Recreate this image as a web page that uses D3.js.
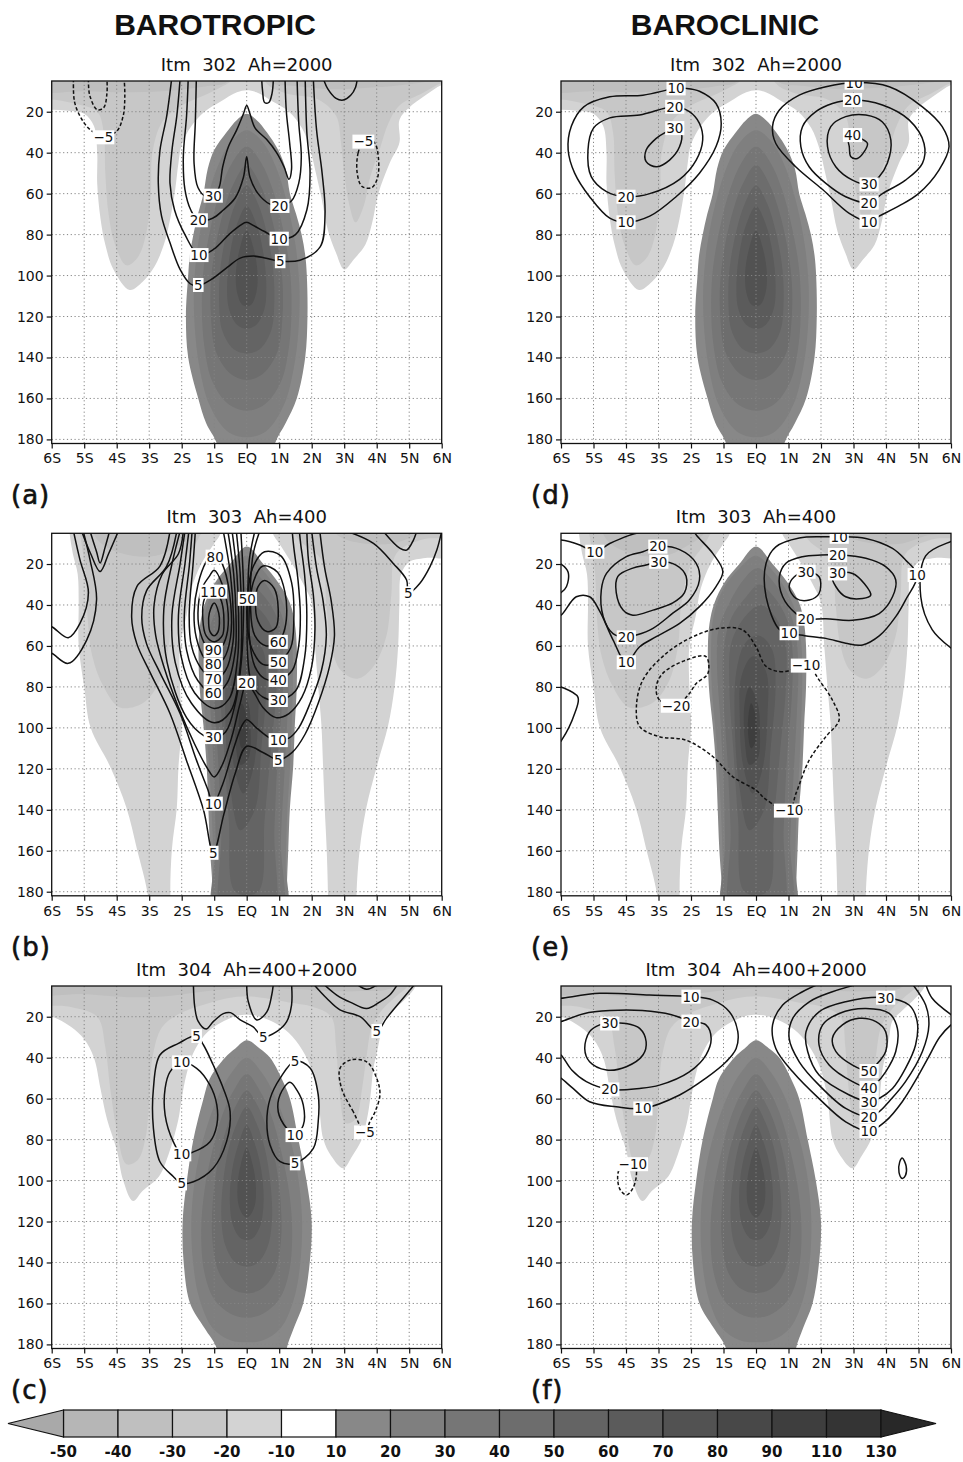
<!DOCTYPE html>
<html><head><meta charset="utf-8">
<script src="https://cdn.jsdelivr.net/npm/d3@7/dist/d3.min.js"></script>
<style>
body{margin:0;background:#fff;}
svg{display:block;font-family:"DejaVu Sans",sans-serif;}
</style></head><body>
<svg id="fig" width="963" height="1462"></svg>
<script>
// ---------- axes ----------
const latTicks = [-6,-5,-4,-3,-2,-1,0,1,2,3,4,5,6];
const latLabels = ["6S","5S","4S","3S","2S","1S","EQ","1N","2N","3N","4N","5N","6N"];
const depthTicks = [20,40,60,80,100,120,140,160,180];
const depthDomain = [5,182];

// ---------- shading classes ----------
const shadeLevels = [-50,-40,-30,-20,-10,10,20,30,40,50,60,70,80,90,110,130];
const shadeColors = ["#a9a9a9","#b6b6b6","#bfbfbf","#c7c7c7","#d3d3d3","#ffffff",
  "#888888","#7f7f7f","#767676","#6d6d6d","#646464","#5b5b5b","#525252","#484848","#3e3e3e","#343434","#282828"];

// ---------- shaded field, Itm 302 (panels a, d) ----------
const shadeRow1 = [
 {level:-10, pts:[[-6.5,-5],[-6.5,19],[-6,19],[-5.5,19.5],[-5.0,21],[-4.7,27],[-4.6,40],[-4.6,55],[-4.5,72],[-4.35,85],[-4.1,97],[-3.6,107],[-3.2,103],[-2.85,96],[-2.55,85],[-2.35,72],[-2.2,58],[-2.1,45],[-2.0,36],[-1.7,27],[-1.3,20],[-0.8,15],[-0.3,10.5],[0,9.5],[0.3,10.5],[0.8,15],[1.3,20],[1.7,28],[1.95,38],[2.1,48],[2.3,62],[2.5,78],[2.75,89],[3.0,97],[3.3,92],[3.65,85],[3.85,75],[4.05,60],[4.4,45],[4.7,35],[4.7,24],[5.0,18],[5.5,12],[6,7],[6.5,5],[6.5,-5],[0,-5]]},
 {level:-20, pts:[[-6.5,-5],[-6.5,14],[-6,14],[-5.3,16],[-4.6,20],[-4.4,30],[-4.35,50],[-4.25,70],[-4.05,85],[-3.7,95],[-3.35,91],[-3.1,80],[-2.95,60],[-2.9,40],[-2.6,25],[-2.0,17],[-1.3,12],[-0.8,8],[-0.5,5],[-0.4,-5]]},
 {level:-20, pts:[[0.4,-5],[0.6,6],[1.2,11],[2.2,14],[2.75,22],[2.9,35],[3.0,50],[3.15,65],[3.35,74],[3.6,66],[3.8,52],[4.1,38],[4.35,26],[4.7,17],[5.4,11],[6,6],[6.5,4],[6.5,-5]]},
 {level:-30, pts:[[-6.5,-5],[-6.5,9],[-5,10],[-3.5,10.5],[-2.2,9.5],[-1.2,7.5],[-0.6,5.5],[-0.3,-5]]},
 {level:-30, pts:[[0.3,-5],[0.7,5.5],[1.5,7.5],[2.6,9],[3.5,8.5],[4.5,7.5],[5.5,5.5],[6.5,3],[6.5,-5]]},
 {level:10, pts:[[0,21],[0.3,24],[0.62,30],[0.97,38.7],[1.2,48],[1.33,60],[1.52,70],[1.69,80],[1.8,90],[1.85,100],[1.87,120],[1.8,140],[1.54,160],[1.2,172],[0.87,182],[0.75,195],[-0.8,195],[-0.92,182],[-1.25,172],[-1.49,160],[-1.8,140],[-1.87,120],[-1.8,100],[-1.75,90],[-1.64,80],[-1.5,70],[-1.33,60],[-1.2,48],[-1.0,38.7],[-0.62,30],[-0.3,24]]},
 {level:20, pts:[[0,29],[0.5,35],[0.9,47],[1.25,65],[1.5,85],[1.62,105],[1.6,125],[1.45,145],[1.15,163],[0.6,176],[0,179],[-0.6,176],[-1.15,163],[-1.45,145],[-1.6,125],[-1.62,105],[-1.5,85],[-1.25,65],[-0.9,47],[-0.5,35]]},
 {level:30, pts:[[0,37],[0.45,45],[0.8,58],[1.1,76],[1.32,96],[1.38,115],[1.3,135],[1.05,152],[0.55,163],[0,166],[-0.55,163],[-1.05,152],[-1.3,135],[-1.38,115],[-1.32,96],[-1.1,76],[-0.8,58],[-0.45,45]]},
 {level:40, pts:[[0,46],[0.4,55],[0.7,68],[0.95,85],[1.1,103],[1.1,120],[0.95,137],[0.5,148],[0,151],[-0.5,148],[-0.95,137],[-1.1,120],[-1.1,103],[-0.95,85],[-0.7,68],[-0.4,55]]},
 {level:50, pts:[[0,56],[0.35,65],[0.6,78],[0.8,95],[0.85,112],[0.75,127],[0.4,136],[0,138],[-0.4,136],[-0.75,127],[-0.85,112],[-0.8,95],[-0.6,78],[-0.35,65]]},
 {level:60, pts:[[0,66],[0.3,75],[0.5,88],[0.6,103],[0.55,116],[0.3,124],[0,126],[-0.3,124],[-0.55,116],[-0.6,103],[-0.5,88],[-0.3,75]]},
 {level:70, pts:[[0,78],[0.2,86],[0.33,98],[0.3,108],[0.15,114],[0,115],[-0.15,114],[-0.3,108],[-0.33,98],[-0.2,86]]}
];

// ---------- shaded field, Itm 303 (panels b, e) ----------
const shadeRow2 = [
 {level:-10, pts:[[-5.5,-5],[-5.45,5],[-5.35,15],[-5.2,25],[-5.17,39],[-5.17,60],[-5.0,80],[-4.8,100],[-4.2,119],[-3.7,139],[-3.38,159],[-3.05,181],[-3.0,195],[-2.3,195],[-2.35,181],[-2.3,159],[-2.15,139],[-2.1,119],[-2.0,99],[-2.05,80],[-2.05,60],[-1.85,45],[-1.7,32],[-1.4,20],[-1.0,10],[-0.8,5],[-0.75,-5]]},
 {level:-10, pts:[[0.75,-5],[0.8,5],[1.0,10],[1.4,20],[1.75,30],[2.0,39],[2.1,60],[2.2,80],[2.3,99],[2.35,119],[2.4,139],[2.46,159],[2.5,181],[2.5,195],[3.38,195],[3.38,181],[3.48,159],[3.68,139],[4.0,119],[4.35,99],[4.55,80],[4.66,60],[4.7,39],[4.75,25],[5.0,19],[5.5,17],[6.5,16],[6.5,-5]]},
 {level:-20, pts:[[-5.2,-5],[-5.1,8],[-4.95,25],[-4.9,45],[-4.75,65],[-4.4,80],[-3.9,90],[-3.2,88],[-2.7,78],[-2.4,60],[-2.3,40],[-2.0,20],[-1.5,8],[-1.2,-5]]},
 {level:-20, pts:[[1.2,-5],[1.6,8],[2.3,18],[2.45,40],[2.6,60],[2.9,72],[3.4,76],[3.9,70],[4.3,55],[4.45,35],[4.6,15],[5.4,8],[6.5,6],[6.5,-5]]},
 {level:-30, pts:[[-4.8,-5],[-4.6,8],[-3.8,15],[-2.8,16],[-2.1,11],[-1.6,5],[-1.5,-5]]},
 {level:-30, pts:[[2.5,-5],[2.8,6],[3.6,10],[4.5,10],[5.3,6],[6.5,4],[6.5,-5]]},
 {level:10, pts:[[0,11.5],[0.51,20],[0.97,29],[1.33,39],[1.48,49],[1.54,60],[1.54,80],[1.48,99],[1.43,119],[1.33,139],[1.28,159],[1.23,181],[1.22,195],[-1.04,195],[-1.04,181],[-1.13,159],[-1.18,139],[-1.23,119],[-1.33,99],[-1.45,80],[-1.48,60],[-1.43,49],[-1.28,39],[-0.97,29],[-0.51,20]]},
 {level:20, pts:[[0,16],[0.5,23],[0.9,32],[1.25,45],[1.4,60],[1.42,80],[1.38,100],[1.33,120],[1.25,140],[1.2,165],[1.15,195],[-0.97,195],[-1.02,165],[-1.08,140],[-1.15,120],[-1.25,100],[-1.36,80],[-1.38,60],[-1.3,45],[-1.0,32],[-0.5,22]]},
 {level:30, pts:[[0.05,22],[0.5,28],[0.9,38],[1.2,52],[1.3,70],[1.25,95],[1.15,125],[1.05,155],[1.0,195],[-0.9,195],[-0.95,155],[-1.0,125],[-1.1,95],[-1.2,70],[-1.15,52],[-0.85,40],[-0.4,28]]},
 {level:40, pts:[[0.1,30],[0.55,36],[0.95,47],[1.12,62],[1.1,85],[0.95,115],[0.85,150],[0.75,195],[-0.7,195],[-0.78,150],[-0.88,115],[-1.0,85],[-1.0,62],[-0.75,46],[-0.3,36]]},
 {level:50, pts:[[0.15,40],[0.6,46],[0.9,58],[0.92,80],[0.75,110],[0.55,145],[0.35,180],[-0.35,180],[-0.55,145],[-0.7,110],[-0.82,80],[-0.75,58],[-0.3,45]]},
 {level:60, pts:[[0.1,55],[0.5,62],[0.6,80],[0.45,110],[0.25,140],[-0.2,150],[-0.5,130],[-0.65,100],[-0.6,72],[-0.3,58]]},
 {level:70, pts:[[-0.1,65],[0.3,72],[0.35,95],[0.2,120],[-0.1,132],[-0.4,118],[-0.5,95],[-0.45,75]]},
 {level:80, pts:[[-0.2,80],[0.05,88],[0.12,100],[0.05,115],[-0.2,118],[-0.35,105],[-0.35,88]]},
 {level:90, pts:[[-0.15,88],[0.0,95],[0.0,106],[-0.15,110],[-0.25,100]]}
];

// ---------- shaded field, Itm 304 (panels c, f) ----------
const shadeRow3 = [
 {level:-10, pts:[[-6.5,-5],[-6.5,20],[-6,20],[-5.4,25],[-5.0,31],[-4.7,40],[-4.5,55],[-4.3,70],[-4.0,85],[-3.8,100],[-3.5,110],[-3.2,105],[-2.7,98],[-2.4,87],[-2.26,80],[-2.1,70],[-2.0,60],[-1.85,48],[-1.65,38],[-1.3,29],[-0.8,23],[-0.3,19.5],[0,19],[0.3,19.5],[0.8,22.5],[1.3,28],[1.7,36],[2.0,46],[2.2,60],[2.36,80],[2.6,88],[2.97,94],[3.25,88],[3.54,80],[3.7,70],[3.8,60],[3.9,45],[4.0,38],[4.1,30],[4.2,22],[4.5,17],[4.9,11],[5.2,5],[5.3,-5],[0,-5]]},
 {level:-20, pts:[[-6.5,-5],[-6.5,13],[-5.5,15],[-4.6,20],[-4.35,35],[-4.2,55],[-4.0,75],[-3.7,92],[-3.35,90],[-3.1,78],[-3.0,60],[-2.9,40],[-2.6,25],[-2.0,18],[-1.3,14],[-0.6,11],[0,10],[0.6,11],[1.3,13],[2.0,15],[2.6,20],[2.75,35],[2.85,55],[3.05,72],[3.35,70],[3.55,55],[3.7,38],[3.85,25],[4.2,16],[4.6,10],[5.0,4],[5.05,-5],[0,-5]]},
 {level:-30, pts:[[-6.5,-5],[-6.5,8],[-5,9],[-3.5,10.5],[-2.5,10],[-1.5,8],[-0.5,6.5],[0.5,6],[1.5,6.5],[2.5,7.5],[3.5,7.5],[4.5,5.5],[4.8,-5],[0,-5]]},
 {level:10, pts:[[0,31.5],[0.4,35.5],[0.72,40],[1.07,50],[1.33,60],[1.59,80],[1.84,100],[2.0,120],[1.94,140],[1.74,160],[1.45,172],[1.23,182],[1.15,195],[-0.85,195],[-0.92,182],[-1.3,172],[-1.74,160],[-1.94,140],[-1.97,120],[-1.84,100],[-1.64,80],[-1.33,60],[-1.13,50],[-0.67,40],[-0.35,35.5]]},
 {level:20, pts:[[0,40],[0.45,47],[0.85,58],[1.25,75],[1.55,95],[1.7,118],[1.65,140],[1.45,158],[1.05,172],[0.5,178],[0,179],[-0.5,178],[-1.05,172],[-1.45,158],[-1.65,140],[-1.7,118],[-1.55,95],[-1.25,75],[-0.85,58],[-0.45,47]]},
 {level:30, pts:[[0,48],[0.4,56],[0.75,68],[1.05,85],[1.3,105],[1.4,125],[1.3,145],[1.0,158],[0.5,165],[0,167],[-0.5,165],[-1.0,158],[-1.3,145],[-1.4,125],[-1.3,105],[-1.05,85],[-0.75,68],[-0.4,56]]},
 {level:40, pts:[[0,56],[0.35,64],[0.65,76],[0.9,92],[1.05,112],[1.05,130],[0.85,145],[0.45,153],[0,155],[-0.45,153],[-0.85,145],[-1.05,130],[-1.05,112],[-0.9,92],[-0.65,76],[-0.35,64]]},
 {level:50, pts:[[0,64],[0.3,72],[0.55,84],[0.72,100],[0.78,118],[0.65,132],[0.35,140],[0,142],[-0.35,140],[-0.65,132],[-0.78,118],[-0.72,100],[-0.55,84],[-0.3,72]]},
 {level:60, pts:[[0,73],[0.25,82],[0.45,95],[0.52,110],[0.42,122],[0.2,128],[0,129],[-0.2,128],[-0.42,122],[-0.52,110],[-0.45,95],[-0.25,82]]},
 {level:70, pts:[[0,84],[0.18,92],[0.28,102],[0.25,112],[0.1,117],[0,118],[-0.1,117],[-0.25,112],[-0.28,102],[-0.18,92]]}
];

// ---------- isolines, barotropic Itm 302 (a) ----------
const contoursA = [
 {v:5, pts:[[-2.31,4],[-2.46,22],[-2.67,39],[-2.72,55],[-2.62,71],[-2.36,84],[-2.05,97],[-1.74,104],[-1.49,105],[-1.1,102],[-0.6,96],[-0.2,91.5],[0.2,90.5],[0.6,91.5],[1.03,93],[1.64,92.5],[2.26,86],[2.41,70],[2.32,50],[2.15,29],[2.05,4]], labels:[[-1.49,104.6],[1.03,93]]},
 {v:10, pts:[[-2.05,4],[-2.15,22],[-2.3,39],[-2.36,55],[-2.22,68],[-1.9,80],[-1.47,90],[-1.0,87],[-0.55,80],[-0.2,75.5],[0,74],[0.2,75.5],[0.55,78.5],[1.0,82],[1.5,80],[1.85,68],[1.95,50],[1.85,30],[1.8,4]], labels:[[-1.47,90],[1.0,82]]},
 {v:20, pts:[[-1.8,4],[-1.85,22],[-1.95,42],[-1.9,58],[-1.72,68],[-1.49,73],[-1.05,72],[-0.72,68],[-0.35,62],[-0.1,52],[0,42],[0.1,52],[0.35,60],[0.7,65],[1.02,66],[1.38,63.5],[1.6,55],[1.68,42],[1.6,25],[1.55,4]], labels:[[-1.49,73],[1.02,66]]},
 {v:30, pts:[[-1.55,4],[-1.58,25],[-1.62,45],[-1.5,57],[-1.25,61.5],[-1.03,61],[-0.85,57],[-0.74,47],[-0.56,37],[-0.31,29],[-0.1,21],[0,17],[0.1,21],[0.26,28],[0.61,33.5],[0.92,40],[1.15,47],[1.3,53],[1.38,48],[1.32,35],[1.22,20],[1.18,4]], labels:[[-1.03,61]]},
 {v:40, pts:[[0.46,4],[0.49,10],[0.55,15.5],[0.68,15.5],[0.78,11],[0.82,4]], labels:[]},
 {v:5, pts:[[2.36,4],[2.5,9],[2.75,13.5],[2.97,14.3],[3.2,12],[3.35,8],[3.4,4]], labels:[]},
 {v:-5, pts:[[-5.33,4],[-5.3,15],[-5.1,23],[-4.8,29],[-4.4,32],[-4.0,29.5],[-3.8,22],[-3.75,12],[-3.77,4]], labels:[[-4.41,32.5]]},
 {v:-10, pts:[[-4.87,4],[-4.83,12],[-4.6,19],[-4.4,18],[-4.3,11],[-4.3,4]], labels:[]},
 {v:-5, closed:true, pts:[[3.59,34.6],[3.43,40],[3.4,50],[3.55,56.5],[3.85,57],[4.03,52],[4.05,42],[3.95,35.5],[3.8,33.8]], labels:[[3.59,34.6]]}
];

// ---------- isolines, baroclinic Itm 302 (d) ----------
const contoursD = [
 {v:10, closed:true, pts:[[-2.46,8.6],[-3.48,11.9],[-4.5,12.7],[-5.3,17.6],[-5.68,27],[-5.78,38.7],[-5.58,50],[-5.12,61.5],[-4.5,72],[-4.0,74],[-3.27,71],[-2.46,61.5],[-1.74,50],[-1.23,37],[-1.07,25.7],[-1.23,16],[-1.74,10],[-2.15,8.6]], labels:[[-2.46,8.6],[-4.0,74]]},
 {v:20, closed:true, pts:[[-2.5,17.6],[-3.58,21.6],[-4.5,23],[-5.0,28],[-5.17,38.7],[-5.07,51.7],[-4.6,59],[-4.0,61.5],[-3.27,60],[-2.35,53],[-1.84,43.6],[-1.64,33.8],[-1.74,25.7],[-2.05,20]], labels:[[-2.5,17.6],[-4.0,61.5]]},
 {v:30, closed:true, pts:[[-2.5,28],[-2.3,30.5],[-2.35,37],[-2.66,43.6],[-3.07,46.9],[-3.38,44.4],[-3.38,38.7],[-3.07,33],[-2.76,29.8]], labels:[[-2.5,28]]},
 {v:10, closed:true, pts:[[3.02,5.8],[4.1,7.8],[5.12,17.6],[5.73,27.3],[5.94,37],[5.63,48.5],[5.0,60],[4.4,66],[3.79,71],[3.48,73.7],[2.87,69.6],[2.05,58],[1.23,47],[0.61,35.5],[0.51,27],[0.72,19.2],[1.33,11.9],[2.15,7.8]], labels:[[3.02,5.8],[3.48,73.7]]},
 {v:20, closed:true, pts:[[2.97,14.3],[3.89,16.7],[4.71,24],[5.17,35.5],[5.12,45.2],[4.6,53.4],[3.89,60],[3.48,64.4],[2.76,61.5],[2.15,55],[1.64,47],[1.38,37],[1.43,27.3],[1.84,20],[2.35,16]], labels:[[2.97,14.3],[3.48,64.4]]},
 {v:30, closed:true, pts:[[3.48,55.5],[2.97,53.4],[2.46,47],[2.2,37],[2.3,27.3],[2.76,22.4],[3.38,21.6],[3.89,25],[4.15,33.8],[4.04,45.2],[3.79,51.7]], labels:[[3.48,55.5]]},
 {v:40, closed:true, pts:[[2.97,31.4],[3.22,33],[3.43,35.5],[3.33,39.5],[3.12,42.8],[2.92,42],[2.87,37],[2.84,33.8]], labels:[[2.97,31.4]]}
];

// ---------- isolines, barotropic Itm 303 (b) ----------
const contoursB = [
 {v:130, closed:true, pts:[[-1.0,39],[-0.86,44],[-0.84,49],[-0.88,53],[-1.0,55],[-1.13,53],[-1.17,49],[-1.15,44]], labels:[]},
 {v:110, closed:true, pts:[[-1.03,32],[-0.78,38],[-0.7,48],[-0.75,55],[-1.0,58],[-1.25,55],[-1.35,47],[-1.3,37]], labels:[[-1.03,33.5]]},
 {v:90, closed:true, pts:[[-1.0,23],[-0.75,30],[-0.57,44],[-0.62,55],[-0.8,61],[-1.0,62.5],[-1.2,61],[-1.42,54],[-1.5,44],[-1.38,32],[-1.15,26]], labels:[[-1.03,62]]},
 {v:80, closed:true, pts:[[-1.0,14],[-0.7,22],[-0.49,40],[-0.5,56],[-0.7,66],[-1.0,69.5],[-1.3,66],[-1.55,56],[-1.62,44],[-1.5,30],[-1.25,19]], labels:[[-0.97,16.4],[-1.03,69]]},
 {v:70, pts:[[-1.58,4],[-1.65,20],[-1.77,45],[-1.7,60],[-1.4,71],[-1.0,76.5],[-0.65,72],[-0.42,58],[-0.41,45],[-0.5,25],[-0.65,10],[-0.72,4]], labels:[[-1.03,76]]},
 {v:60, pts:[[-1.68,4],[-1.76,20],[-1.92,45],[-1.85,62],[-1.5,77],[-1.0,83.5],[-0.6,78],[-0.35,62],[-0.33,45],[-0.4,25],[-0.52,10],[-0.58,4]], labels:[[-1.03,83]]},
 {v:50, pts:[[-1.78,4],[-1.9,20],[-2.1,45],[-2.02,65],[-1.6,83],[-1.0,90.5],[-0.55,86],[-0.28,66],[-0.25,45],[-0.3,25],[-0.4,10],[-0.45,4]], labels:[]},
 {v:40, pts:[[-1.9,4],[-2.05,20],[-2.3,45],[-2.2,68],[-1.7,88],[-1.0,97.5],[-0.5,92],[-0.2,70],[-0.16,45],[-0.2,25],[-0.28,10],[-0.32,4]], labels:[]},
 {v:30, pts:[[-2.05,4],[-2.3,20],[-2.55,42],[-2.45,68],[-1.85,95],[-1.3,104],[-1.03,105],[-0.65,102],[-0.35,88],[-0.15,65],[-0.1,45],[-0.1,30],[-0.14,15],[-0.18,4]], labels:[[-1.03,104.5]]},
 {v:20, pts:[[-1.95,4],[-2.1,15],[-2.6,25],[-2.85,40],[-2.8,55],[-2.55,70],[-2.1,90],[-1.6,108],[-1.2,120],[-1.0,124],[-0.75,118],[-0.45,104],[-0.2,88],[0,78],[0.2,82],[0.5,90],[0.9,95],[1.3,93],[1.7,85],[2.0,70],[2.1,52],[2.05,35],[1.9,18],[1.85,4]], labels:[[0,78]]},
 {v:10, pts:[[-2.15,4],[-2.46,21],[-3.08,33],[-3.23,46],[-3.08,59],[-2.67,73],[-2.05,93],[-1.54,116],[-1.2,130],[-1.03,137],[-0.75,128],[-0.4,110],[-0.15,99],[0,96],[0.3,100],[0.72,105],[0.97,106],[1.3,105],[1.6,100],[1.95,88],[2.3,72],[2.45,55],[2.35,38],[2.15,22],[2.0,4]], labels:[[-1.03,137],[0.97,106]]},
 {v:5, pts:[[-2.36,4],[-2.67,21],[-3.38,31],[-3.54,46],[-3.38,59],[-2.97,73],[-2.36,93],[-1.85,116],[-1.33,140],[-1.03,161],[-0.7,142],[-0.35,122],[0,109],[0.5,112],[0.97,115.6],[1.4,112],[1.8,103],[2.2,88],[2.55,70],[2.7,55],[2.6,38],[2.4,22],[2.25,4]], labels:[[-1.03,161],[0.97,115.6]]},
 {v:70, closed:true, pts:[[0.55,28],[0.85,32],[0.97,42],[0.9,51],[0.62,53],[0.35,48],[0.27,38],[0.35,31]], labels:[]},
 {v:60, closed:true, pts:[[0.5,21],[0.95,24],[1.18,34],[1.22,47],[1.1,55],[0.97,58],[0.6,60],[0.25,55],[0.12,42],[0.2,29]], labels:[[0.97,58]]},
 {v:50, closed:true, pts:[[0.02,37],[0.18,22],[0.55,14],[1.05,16],[1.38,29],[1.45,47],[1.35,61],[0.97,67.7],[0.5,69],[0.15,61],[0.02,50]], labels:[[0.02,37],[0.97,67.7]]},
 {v:40, pts:[[0.4,4],[0.2,15],[0.1,35],[0.08,55],[0.25,70],[0.55,76],[0.97,76.6],[1.4,72],[1.6,60],[1.65,45],[1.58,28],[1.45,12],[1.4,4]], labels:[[0.97,76.6]]},
 {v:30, pts:[[0.25,4],[0.08,18],[0.03,40],[0.02,62],[0.15,78],[0.5,85],[0.97,86.4],[1.5,82],[1.78,66],[1.85,45],[1.78,25],[1.66,10],[1.62,4]], labels:[[0.97,86.4]]},
 {v:5, pts:[[-5.08,4],[-4.8,15],[-4.51,23.7],[-4.25,15],[-3.95,4]], labels:[]},
 {v:10, pts:[[-4.82,4],[-4.62,14],[-4.51,19.5],[-4.36,12],[-4.22,4]], labels:[]},
 {v:5, pts:[[-6.2,50],[-6,50.6],[-5.49,56],[-5.13,49],[-4.87,34],[-5.13,18],[-5.33,4]], labels:[]},
 {v:5, pts:[[-6.2,63],[-6,63.6],[-5.49,68.5],[-4.92,57],[-4.62,37.6],[-4.82,18],[-5.03,4]], labels:[]},
 {v:5, pts:[[3.08,4],[3.9,9.9],[4.51,19.7],[4.92,27.8],[4.97,34.3],[5.33,29.4],[5.64,21.3],[5.85,13.2],[6.0,4]], labels:[[4.97,34.3]]},
 {v:10, pts:[[4.2,4],[4.72,12.4],[4.92,13.2],[5.13,8.3],[5.23,4]], labels:[]}
];

// ---------- isolines, baroclinic Itm 303 (e) ----------
const contoursE = [
 {v:10, pts:[[-6.2,8.5],[-6,8.3],[-5.42,10.7],[-4.96,14],[-4.5,10],[-3.9,6],[-3.4,4]], labels:[[-4.96,14]]},
 {v:10, pts:[[-6.2,46],[-6,45],[-5.53,36],[-5.12,36],[-4.81,43],[-4.4,57],[-3.99,68],[-3.58,60.4],[-3.07,55.5],[-2.35,49],[-1.74,40.8],[-1.23,31],[-1.02,23.7],[-1.33,14.8],[-1.84,5.8],[-1.9,4]], labels:[[-3.99,68]]},
 {v:10, pts:[[-6.2,19],[-6,20],[-5.78,24],[-5.83,31],[-6,34],[-6.2,35]], labels:[]},
 {v:10, pts:[[-6.2,79],[-6,80],[-5.48,85],[-5.58,93],[-5.98,106],[-6.2,110]], labels:[]},
 {v:20, closed:true, pts:[[-3.02,11.5],[-2.35,13],[-1.84,19.7],[-1.74,27.8],[-2.05,37.6],[-2.56,44],[-3.17,51.4],[-3.68,54.7],[-3.99,55.8],[-4.4,54],[-4.7,45.7],[-4.76,32.7],[-4.6,24.6],[-3.99,16.4],[-3.48,14]], labels:[[-3.02,11.5],[-3.99,55.8]]},
 {v:30, closed:true, pts:[[-2.99,18.9],[-2.46,20.5],[-2.15,26],[-2.2,34],[-2.56,39],[-3.17,42.5],[-3.79,45],[-4.09,42.5],[-4.3,34],[-4.25,26],[-3.79,22],[-3.38,20.5]], labels:[[-2.99,18.9]]},
 {v:10, closed:true, pts:[[2.56,6.7],[3.38,7.5],[4.2,12.4],[4.6,18],[4.96,25.4],[4.6,37.6],[4.3,45.7],[3.8,55],[3.28,59.5],[2.76,58.7],[2.15,56.3],[1.5,55],[1.02,53.8],[0.72,52],[0.31,36],[0.31,19.6],[0.61,11.6],[1.33,7.3],[2.05,6.7]], labels:[[2.56,6.7],[4.96,25.4],[1.02,53.8]]},
 {v:10, pts:[[6.2,8],[6,9],[5.22,16],[5.07,36],[5.42,52],[6,61],[6.2,63]], labels:[]},
 {v:20, closed:true, pts:[[2.51,15.6],[3.38,17.2],[3.99,21.3],[4.3,27.8],[4.2,36],[3.79,44.2],[2.97,47.5],[2.15,46.7],[1.54,46.7],[1.23,44.2],[0.82,36],[0.72,26.2],[0.92,19.6],[1.43,16.4],[2.0,15.6]], labels:[[2.51,15.6],[1.54,46.7]]},
 {v:30, closed:true, pts:[[1.54,23.8],[1.94,26.2],[1.94,34.4],[1.64,37.6],[1.23,36.8],[1.02,31.1],[1.18,26.2]], labels:[[1.54,23.8]]},
 {v:30, closed:true, pts:[[2.51,24.6],[2.97,24.6],[3.33,29.5],[3.53,35.2],[3.28,36.8],[2.76,36],[2.46,31.1],[2.35,26.2]], labels:[[2.51,24.6]]},
 {v:-10, closed:true, pts:[[1.54,69.6],[0.82,72.6],[0.31,70],[0,60.4],[-0.41,52.2],[-1.13,51.4],[-1.94,55.5],[-2.76,63.6],[-3.48,76.6],[-3.68,89.7],[-3.58,99.4],[-2.97,104.3],[-2.15,106],[-1.33,114],[-0.72,123.8],[0,130.4],[0.31,135],[1.02,140.4],[1.23,132],[1.64,115.7],[2.15,104.3],[2.56,96],[2.35,86.4],[1.94,76.6],[1.74,71.8]], labels:[[1.54,69.6],[1.02,140.4]]},
 {v:-20, closed:true, pts:[[-2.46,89.2],[-2.97,86.4],[-3.07,80],[-2.87,73.4],[-2.15,66.9],[-1.54,65.2],[-1.48,73.4],[-1.84,78.3],[-2.05,83.2]], labels:[[-2.46,89.2]]}
];

// ---------- isolines, barotropic Itm 304 (c) ----------
const contoursC = [
 {v:5, closed:true, pts:[[-1.54,29.4],[-2.1,33],[-2.67,38.7],[-2.87,55],[-2.87,74.5],[-2.67,90.8],[-2.26,98],[-2.0,101.4],[-1.64,100.6],[-1.03,94],[-0.62,81],[-0.51,66.4],[-0.72,55],[-1.03,43.6],[-1.33,33.8]], labels:[[-1.54,29.4],[-2.0,101.4]]},
 {v:10, closed:true, pts:[[-2.0,42.3],[-1.54,45.2],[-1.13,53.4],[-0.92,63],[-0.92,72.9],[-1.13,81],[-1.64,86],[-2.0,87.2],[-2.26,81],[-2.51,68],[-2.51,55],[-2.36,46.9]], labels:[[-2.0,42.3],[-2.0,87.2]]},
 {v:5, closed:true, pts:[[1.49,41.6],[1.95,45],[2.2,58],[2.2,71.3],[2.05,84.3],[1.49,91.6],[1.03,90.8],[0.72,82.7],[0.62,71.3],[0.72,60],[1.03,50]], labels:[[1.49,41.6],[1.49,91.6]]},
 {v:10, closed:true, pts:[[1.49,77.8],[1.23,74.5],[0.97,66.4],[1.03,58],[1.33,52],[1.55,56],[1.74,63],[1.74,73]], labels:[[1.49,77.8]]},
 {v:5, pts:[[-1.64,4],[-1.6,15],[-1.5,22],[-1.25,26],[-1.03,22.4],[-0.72,18.5],[-0.5,18],[-0.2,21.5],[0.2,25],[0.51,29.8],[0.92,27.3],[1.23,22.4],[1.38,14.3],[1.38,4]], labels:[[0.51,29.8]]},
 {v:10, pts:[[0,4],[0.05,12.7],[0.31,21.6],[0.62,17.6],[0.77,9.4],[0.82,4]], labels:[]},
 {v:5, pts:[[2.05,4],[2.46,11],[2.87,16.7],[3.49,20],[4.0,27],[4.3,20.8],[4.72,12.7],[5.18,4]], labels:[[4.0,27]]},
 {v:10, pts:[[2.36,4],[2.77,9.4],[3.2,13],[3.69,16],[4.1,12.7],[4.4,9.4],[4.65,4]], labels:[]},
 {v:20, pts:[[3.38,4],[3.69,6.6],[4.05,4]], labels:[]},
 {v:-5, closed:true, pts:[[3.64,76.5],[3.28,66.4],[2.92,55],[2.87,45.2],[3.18,41.2],[3.69,42],[4.0,50],[4.1,58],[3.95,66.4],[3.79,71.3]], labels:[[3.64,76.5]]}
];

// ---------- isolines, baroclinic Itm 304 (f) ----------
const contoursF = [
 {v:10, pts:[[-6.2,11.2],[-6,11],[-4.81,8.6],[-3.28,9.4],[-2.0,10.2],[-1.33,11.9],[-0.82,17.6],[-0.56,27.3],[-0.61,35.5],[-0.92,42],[-1.54,50],[-2.35,58.2],[-3.48,64.8],[-4.3,64],[-5.12,61.5],[-5.63,55],[-6,50],[-6.2,48]], labels:[[-2.0,10.2],[-3.48,64.8]]},
 {v:20, pts:[[-6.2,23],[-6,22.4],[-5.3,18.5],[-4.5,17],[-3.5,17],[-2.6,19],[-2.0,22.4],[-1.54,24],[-1.38,30.6],[-1.54,38.7],[-2.05,46.9],[-2.97,53.4],[-3.58,55],[-4.5,55.5],[-5.22,51.7],[-5.67,46],[-6,38.7],[-6.2,37]], labels:[[-2.0,22.4],[-4.5,55.5]]},
 {v:30, closed:true, pts:[[-4.5,23.3],[-3.99,23.3],[-3.58,25.7],[-3.38,32.2],[-3.48,38.7],[-3.99,44.4],[-4.6,46],[-5.12,42],[-5.27,35.5],[-5.12,27.3],[-4.81,24]], labels:[[-4.5,23.3]]},
 {v:50, closed:true, pts:[[3.48,46.5],[2.97,43.6],[2.46,37],[2.35,30.6],[2.66,24],[3.17,20.8],[3.69,22.4],[3.99,27.3],[3.99,37],[3.69,43.6]], labels:[[3.48,46.5]]},
 {v:40, closed:true, pts:[[3.48,54.7],[2.97,51.7],[2.25,43.6],[1.94,33.8],[2.05,24],[2.56,18.4],[3.38,16],[4.1,18.4],[4.35,25.7],[4.3,37],[3.99,46.9],[3.69,52.6]], labels:[[3.48,54.7]]},
 {v:30, closed:true, pts:[[3.48,61.5],[2.87,58.2],[1.94,48.5],[1.59,37],[1.54,27.3],[1.94,17.6],[2.76,12.7],[3.99,10.7],[4.71,14.3],[4.96,22.4],[4.91,33.8],[4.6,45.2],[4.2,55],[3.79,59.9]], labels:[[3.48,61.5],[3.99,10.7]]},
 {v:20, pts:[[3.17,4],[2.35,7.8],[1.64,12.7],[1.13,20.8],[1.02,30.6],[1.33,42],[1.94,53.4],[2.76,64.8],[3.48,68.8],[3.79,66.4],[4.09,61.5],[4.6,51.7],[5.12,37],[5.32,24],[5.22,14.3],[4.81,4]], labels:[[3.48,68.8]]},
 {v:10, pts:[[1.94,4],[1.43,7.8],[0.82,14.3],[0.51,24],[0.61,35.5],[1.13,46.9],[1.94,60],[2.76,71.3],[3.48,75.8],[3.99,71],[4.5,61.5],[4.95,50],[5.3,40],[5.65,30],[6,24],[6.2,22]], labels:[[3.48,75.8]]},
 {v:10, pts:[[5.22,4],[5.42,11],[6,19],[6.2,21]], labels:[]},
 {v:-10, closed:true, pts:[[-3.9,91],[-4.22,95],[-4.2,103.8],[-3.99,107],[-3.79,103.8],[-3.68,97.3],[-3.72,92]], labels:[[-3.79,92]]},
 {v:10, closed:true, pts:[[4.5,89],[4.62,93],[4.6,97.5],[4.5,99],[4.4,96],[4.42,91]], labels:[]}
];

// ---------- panel layout ----------
const colX = [51.7, 561];
const rowTop = [81, 533.3, 986];
const plotW = 390, plotH = 362.5;
const letterY = [495, 947, 1390];

const panels = [
 {key:"a", title:"Itm  302  Ah=2000", col:0, row:0, shade:shadeRow1, lines:contoursA},
 {key:"d", title:"Itm  302  Ah=2000", col:1, row:0, shade:shadeRow1, lines:contoursD},
 {key:"b", title:"Itm  303  Ah=400", col:0, row:1, shade:shadeRow2, lines:contoursB},
 {key:"e", title:"Itm  303  Ah=400", col:1, row:1, shade:shadeRow2, lines:contoursE},
 {key:"c", title:"Itm  304  Ah=400+2000", col:0, row:2, shade:shadeRow3, lines:contoursC},
 {key:"f", title:"Itm  304  Ah=400+2000", col:1, row:2, shade:shadeRow3, lines:contoursF}
];

const svg = d3.select("#fig");
const color = d3.scaleThreshold().domain(shadeLevels).range(shadeColors);
const fmt = v => (v < 0 ? "\u2212" + Math.abs(v) : String(v));

// column headings
[["BAROTROPIC", 215], ["BAROCLINIC", 725]].forEach(([t, cx]) => {
  svg.append("text").attr("x", cx).attr("y", 35).attr("text-anchor", "middle")
    .style("font-family", "'Liberation Sans',Arial,sans-serif").style("font-weight", "bold")
    .style("font-size", "30px").attr("fill", "#111").text(t);
});

panels.forEach(p => {
  const x0 = colX[p.col], y0 = rowTop[p.row];
  const x = d3.scaleLinear().domain([-6, 6]).range([x0, x0 + plotW]);
  const y = d3.scaleLinear().domain(depthDomain).range([y0, y0 + plotH]);
  const g = svg.append("g");
  const clipId = "clip-" + p.key;
  g.append("clipPath").attr("id", clipId).append("rect")
    .attr("x", x0).attr("y", y0).attr("width", plotW).attr("height", plotH);
  const body = g.append("g").attr("clip-path", `url(#${clipId})`);

  const closedLine = d3.line().x(d => x(d[0])).y(d => y(d[1])).curve(d3.curveCatmullRomClosed.alpha(0.5));
  const openLine = d3.line().x(d => x(d[0])).y(d => y(d[1])).curve(d3.curveCatmullRom.alpha(0.5));

  // shaded field
  body.selectAll("path.shade").data(p.shade).join("path").attr("class", "shade")
    .attr("d", d => closedLine(d.pts))
    .attr("fill", d => d.level < 0 ? color(d.level - 5) : color(d.level + 1))
    .attr("stroke", "none");

  // dotted grid
  const gridLats = latTicks.slice(1, -1);
  body.selectAll("line.gx").data(gridLats).join("line").attr("class", "gx")
    .attr("x1", d => x(d)).attr("x2", d => x(d)).attr("y1", y0).attr("y2", y0 + plotH)
    .attr("stroke", "#858585").attr("stroke-width", 1).attr("stroke-dasharray", "1.2,2.6");
  body.selectAll("line.gy").data(depthTicks).join("line").attr("class", "gy")
    .attr("x1", x0).attr("x2", x0 + plotW).attr("y1", d => y(d)).attr("y2", d => y(d))
    .attr("stroke", "#858585").attr("stroke-width", 1).attr("stroke-dasharray", "1.2,2.6");

  // isolines
  body.selectAll("path.iso").data(p.lines).join("path").attr("class", "iso")
    .attr("d", d => d.closed ? closedLine(d.pts) : openLine(d.pts))
    .attr("fill", "none").attr("stroke", "#111").attr("stroke-width", 1.5)
    .attr("stroke-linejoin", "round")
    .attr("stroke-dasharray", d => d.v < 0 ? "3.5,2.2" : null);

  // isoline labels
  const labs = [];
  p.lines.forEach(l => (l.labels || []).forEach(pt => labs.push({v: l.v, pt})));
  const lg = body.selectAll("g.lab").data(labs).join("g").attr("class", "lab")
    .attr("transform", d => `translate(${x(d.pt[0])},${y(d.pt[1])})`);
  lg.append("rect").attr("fill", "#fff");
  lg.append("text").attr("text-anchor", "middle").attr("dy", "0.36em")
    .style("font-size", "13.5px").attr("fill", "#111").text(d => fmt(d.v));
  lg.each(function() {
    const t = d3.select(this).select("text").node();
    const w = t.getComputedTextLength() + 2;
    d3.select(this).select("rect").attr("x", -w / 2).attr("y", -7).attr("width", w).attr("height", 14);
  });

  // frame
  g.append("rect").attr("x", x0).attr("y", y0).attr("width", plotW).attr("height", plotH)
    .attr("fill", "none").attr("stroke", "#111").attr("stroke-width", 1.3);

  // axes
  const ax = g.append("g").attr("transform", `translate(${x0},0)`)
    .call(d3.axisLeft(y).tickValues(depthTicks).tickSize(5).tickPadding(3));
  const bx = g.append("g").attr("transform", `translate(0,${y0 + plotH})`)
    .call(d3.axisBottom(x).tickValues(latTicks).tickSize(5).tickPadding(5)
      .tickFormat((d, i) => latLabels[i]));
  [ax, bx].forEach(a => {
    a.select(".domain").remove();
    a.selectAll("line").attr("stroke", "#111").attr("stroke-width", 1.2);
    a.selectAll("text").style("font-size", "14px").style("font-family", "'DejaVu Sans',sans-serif").attr("fill", "#111");
  });

  // panel title and letter
  g.append("text").attr("x", x0 + plotW / 2).attr("y", y0 - 10).attr("text-anchor", "middle")
    .style("font-size", "18px").style("white-space", "pre").attr("fill", "#111").text(p.title);
  g.append("text").attr("x", p.col === 0 ? 11 : 531).attr("y", letterY[p.row])
    .attr("dominant-baseline", "central").style("font-size", "26px").style("letter-spacing", "1px")
    .attr("fill", "#111").attr("stroke", "#111").attr("stroke-width", 0.6)
    .text("(" + p.key + ")");
});

// ---------- colour bar ----------
const cb = svg.append("g");
const cbX = d3.scaleLinear().domain([0, shadeLevels.length - 1]).range([63.5, 881]);
const cbTop = 1410, cbH = 27;
const boxes = d3.range(shadeLevels.length - 1);
cb.selectAll("rect").data(boxes).join("rect")
  .attr("x", i => cbX(i)).attr("y", cbTop).attr("width", i => cbX(i + 1) - cbX(i)).attr("height", cbH)
  .attr("fill", i => color(shadeLevels[i] + 1)).attr("stroke", "#111").attr("stroke-width", 1.2);
cb.append("path").attr("d", `M${cbX(0)},${cbTop} L8,${cbTop + cbH / 2} L${cbX(0)},${cbTop + cbH} Z`)
  .attr("fill", shadeColors[0]).attr("stroke", "#111").attr("stroke-width", 1.2);
const last = shadeLevels.length - 1;
cb.append("path").attr("d", `M${cbX(last)},${cbTop} L936,${cbTop + cbH / 2} L${cbX(last)},${cbTop + cbH} Z`)
  .attr("fill", shadeColors[shadeColors.length - 1]).attr("stroke", "#111").attr("stroke-width", 1.2);
cb.selectAll("text").data(shadeLevels).join("text")
  .attr("x", (d, i) => cbX(i)).attr("y", cbTop + cbH + 20).attr("text-anchor", "middle")
  .style("font-size", "15px").style("font-weight", "bold").attr("fill", "#111")
  .text(d => (d < 0 ? "-" + Math.abs(d) : String(d)));
</script></body></html>
